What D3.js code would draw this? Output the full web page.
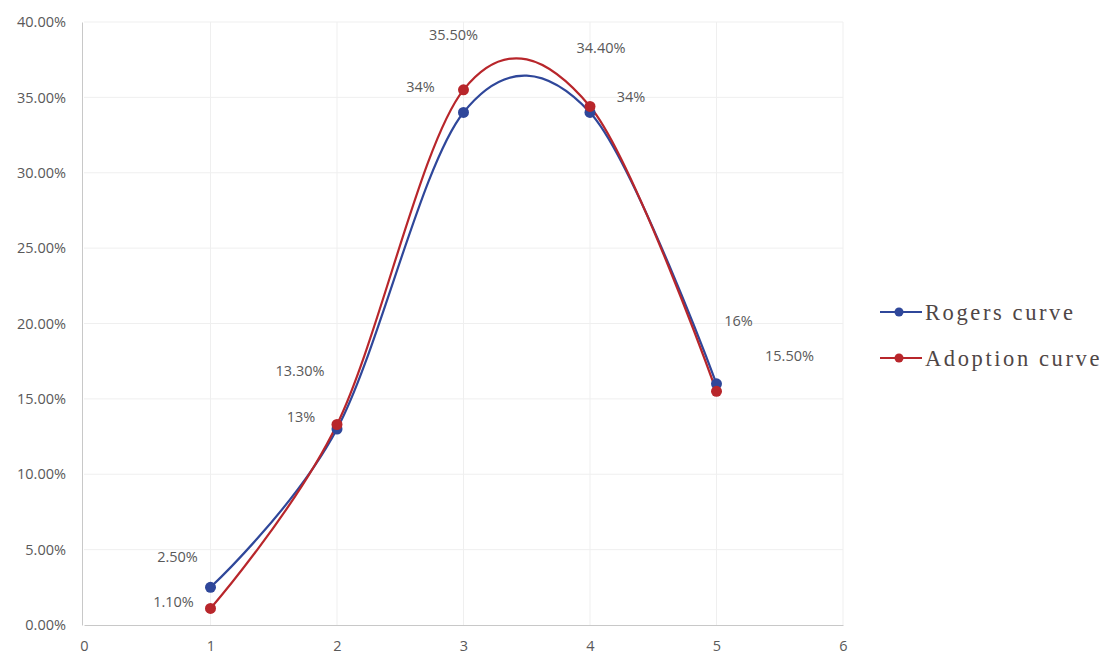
<!DOCTYPE html>
<html><head><meta charset="utf-8">
<script src="https://cdn.jsdelivr.net/npm/d3@7"></script>
<style>body{margin:0;background:#fff}</style>
</head><body><svg id="c" width="1120" height="662"></svg>
<script>
const xValues = [1, 2, 3, 4, 5];
const rogers = [2.5, 13, 34, 34, 16];
const adoption = [1.1, 13.3, 35.5, 34.4, 15.5];
const rogersLabels = ["2.50%", "13%", "34%", "34%", "16%"];
const adoptionLabels = ["1.10%", "13.30%", "35.50%", "34.40%", "15.50%"];
const xTicks = [0, 1, 2, 3, 4, 5, 6];
const yTicks = [0, 5, 10, 15, 20, 25, 30, 35, 40];
const seriesNames = ["Rogers curve", "Adoption curve"];

// label offsets (px) from each point
const rogersOff = [[-33,-30],[-36,-12],[-43,-26],[41,-16],[22,-63]];
const adoptionOff = [[-37,-6],[-37,-54],[-10,-55],[11,-58],[73,-35]];

const svg = d3.select("#c");
const x = d3.scaleLinear().domain([0, 6]).range([84, 843]);
const y = d3.scaleLinear().domain([0, 40]).range([625, 22]);

// grid
svg.append("g").selectAll("line").data(yTicks.slice(1)).join("line")
  .attr("x1", x(0)).attr("x2", x(6)).attr("y1", d => y(d)).attr("y2", d => y(d))
  .attr("stroke", "#efefef").attr("stroke-width", 1);
svg.append("g").selectAll("line").data(xTicks.slice(1)).join("line")
  .attr("y1", y(0)).attr("y2", y(40)).attr("x1", d => x(d)).attr("x2", d => x(d))
  .attr("stroke", "#efefef").attr("stroke-width", 1);

// axes
const yAxis = d3.axisLeft(y).tickValues(yTicks).tickSize(0).tickPadding(16)
  .tickFormat(d => d.toFixed(2) + "%");
const gy = svg.append("g").attr("transform", `translate(${x(0) - 2},0)`).call(yAxis);
gy.select(".domain").attr("stroke", "#c8c8c8");
gy.selectAll("text").attr("font-family", "Open Sans").attr("font-size", 14.5).attr("fill", "#595959");

const xAxis = d3.axisBottom(x).tickValues(xTicks).tickSize(0).tickPadding(16).tickFormat(d3.format("d"));
const gx = svg.append("g").attr("transform", `translate(0,${y(0)})`).call(xAxis);
gx.select(".domain").attr("stroke", "#c8c8c8");
gx.selectAll("text").attr("font-family", "Open Sans").attr("font-size", 14.5).attr("fill", "#595959");

const line = d3.line().x((d, i) => x(xValues[i])).y(d => y(d)).curve(d3.curveCatmullRom.alpha(0));

const series = [
  {vals: rogers, labels: rogersLabels, off: rogersOff, color: "#2f479a"},
  {vals: adoption, labels: adoptionLabels, off: adoptionOff, color: "#b8262b"}
];

series.forEach(s => {
  svg.append("path").datum(s.vals).attr("d", line)
    .attr("fill", "none").attr("stroke", s.color).attr("stroke-width", 2.2);
});
series.forEach(s => {
  svg.append("g").selectAll("circle").data(s.vals).join("circle")
    .attr("cx", (d, i) => x(xValues[i])).attr("cy", d => y(d)).attr("r", 5.5)
    .attr("fill", s.color);
});
series.forEach(s => {
  svg.append("g").selectAll("text").data(s.vals).join("text")
    .attr("x", (d, i) => x(xValues[i]) + s.off[i][0])
    .attr("y", (d, i) => y(d) + s.off[i][1])
    .attr("dy", "0.35em").attr("text-anchor", "middle")
    .attr("font-family", "Open Sans").attr("font-size", 14.5).attr("fill", "#595959")
    .text((d, i) => s.labels[i]);
});

// legend
const lg = svg.append("g");
series.forEach((s, i) => {
  const yy = 312 + i * 46;
  lg.append("line").attr("x1", 880).attr("x2", 922).attr("y1", yy).attr("y2", yy)
    .attr("stroke", s.color).attr("stroke-width", 2.2);
  lg.append("circle").attr("cx", 899).attr("cy", yy).attr("r", 4.5).attr("fill", s.color);
  lg.append("text").attr("x", 925).attr("y", yy + 8)
    .attr("font-family", "Liberation Serif").attr("font-size", 22.5)
    .attr("letter-spacing", 2.6).attr("fill", "#4f4646").text(seriesNames[i]);
});
</script></body></html>
